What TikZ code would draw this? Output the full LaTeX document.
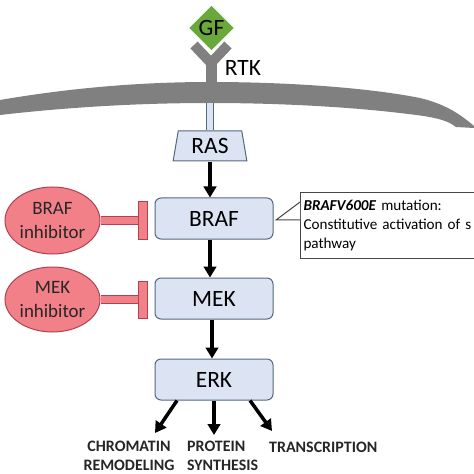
\documentclass[tikz,border=0pt]{standalone}
\usepackage{fontspec}
\setmainfont{Carlito}
\usetikzlibrary{arrows.meta, shapes.geometric, positioning}
\definecolor{membgray}{RGB}{128,128,128}
\definecolor{gfgreen}{RGB}{106,168,60}
\definecolor{boxblue}{RGB}{220,228,243}
\definecolor{boxline}{RGB}{84,104,128}
\definecolor{drugred}{RGB}{242,128,136}
\definecolor{drugline}{RGB}{176,66,80}
\definecolor{calloutline}{RGB}{70,70,70}
\newcommand{\bigfont}{\fontsize{23.5}{25}\selectfont}
\newcommand{\drugfont}{\fontsize{19}{23.5}\selectfont}
\newcommand{\notefont}{\fontsize{15.2}{19}\selectfont}
\newcommand{\outfont}{\fontsize{16}{18.5}\selectfont\bfseries}

\begin{document}
\begin{tikzpicture}[
  x=1bp, y=-1bp,
  kinase/.style={draw=boxline, line width=1bp, fill=boxblue, rounded corners=6bp,
                 minimum width=118bp, minimum height=41bp, inner sep=0pt, font=\bigfont},
  drug/.style={ellipse, draw=drugline, line width=1bp, fill=drugred, minimum width=95bp,
               inner sep=0pt, align=center, text=black!85, font=\drugfont},
  tbar/.style={draw=drugline, line width=1bp, fill=drugred, minimum width=9bp,
               minimum height=37bp, inner sep=0pt},
  tstem/.style={draw=drugline, line width=1bp, double=drugred, double distance=7bp},
  arrow/.style={-{Triangle[width=12.5bp, length=11bp]}, line width=3.5bp, black},
  outcome/.style={align=center, text=black!85, font=\outfont, inner sep=0pt}
]
  \clip (0,0) rectangle (474,474);
  \fill[white] (0,0) rectangle (474,474);

  % membrane
  \fill[membgray] (0,100) .. controls (70,88) and (140,82) .. (210,82)
    .. controls (290,82) and (370,88) .. (420,98)
    .. controls (445,104) and (460,114) .. (474,126) -- (474,128)
    -- (456,127) .. controls (445,118) and (425,116) .. (400,113)
    .. controls (340,106) and (270,103) .. (210,103)
    .. controls (140,103) and (70,107) .. (0,115) -- cycle;

  % receptor
  \coordinate (armleft) at (194,45);
  \coordinate (armright) at (228,45);
  \coordinate (fork) at (211,63);
  \coordinate (membtop) at (211,86);
  \coordinate (membbot) at (210,103);
  \draw[membgray, line width=10bp] (armleft) -- (fork) -- (armright);
  \draw[membgray, line width=11bp] (fork) -- (membtop);
  \node[diamond, fill=gfgreen, draw=white, line width=0.8bp, minimum width=46bp,
        minimum height=46bp, inner sep=-1bp, font=\bigfont] (gf) at (211.5,28) {GF};
  \node[font=\bigfont, inner sep=0pt] (rtk) at (243,68) {RTK};

  % cascade
  \node[trapezium, trapezium left angle=79, trapezium right angle=79, draw=boxline,
        line width=1bp, fill=boxblue, minimum height=30bp, minimum width=74bp,
        inner sep=0pt, trapezium stretches=true, font=\bigfont] (ras) at (210,146) {RAS};
  \node[kinase] (braf) at (214,218.5) {BRAF};
  \node[kinase, below=38bp of braf] (mek) {MEK};
  \node[kinase, below=39bp of mek] (erk) {ERK};

  \draw[draw=boxline, line width=1bp, double=boxblue, double distance=6bp]
    (membbot) -- (ras.north -| membbot);
  \draw[arrow] (ras.south) -- (ras.south |- braf.north);
  \draw[arrow] (braf.south -| ras.south) -- (ras.south |- mek.north);
  \draw[arrow] (mek.south) ++(-2,0) -- ++(0,39);

  % inhibitors
  \node[drug, minimum height=67bp] (brafdrug) at (52.5,220.5) {BRAF\\inhibitor};
  \node[drug, minimum height=65bp] (mekdrug) at (52.5,299.5) {MEK\\inhibitor};
  \node[tbar] (brafbar) at (142.5,220.5) {};
  \node[tbar] (mekbar) at (142.5,299.5) {};
  \draw[tstem] (brafdrug.east) -- (brafbar.west);
  \draw[tstem] (mekdrug.east) -- (mekbar.west);

  % note on the mutation
  \node[draw=calloutline, line width=1bp, minimum height=66bp, text width=175bp, inner sep=3bp,
        anchor=north west, align=left, font=\notefont] (note) at (300,192)
    {\textbf{\textit{BRAFV600E}} mutation:\\Constitutive activation of s\\pathway};
  \coordinate (notetip) at (276,220);
  \coordinate (noteup) at (300,202);
  \coordinate (notedown) at (300,220);
  \fill[white] (noteup) -- (notetip) -- (notedown) -- cycle;
  \draw[calloutline, line width=1bp] (noteup) -- (notetip) -- (notedown);

  % outcomes
  \node[outcome] (chromatin) at (129,456) {CHROMATIN\\REMODELING};
  \node[outcome, align=left, anchor=west] (protein) at (187,456) {PROTEIN\\SYNTHESIS};
  \node[outcome, anchor=west] (transcription) at (269,447) {TRANSCRIPTION};
  \draw[arrow] (erk.south -| 177,0) -- (155,433);
  \draw[arrow] (erk.south) -- (erk.south |- 0,435);
  \draw[arrow] (erk.south -| 250,0) -- (272,431);
\end{tikzpicture}
\end{document}
